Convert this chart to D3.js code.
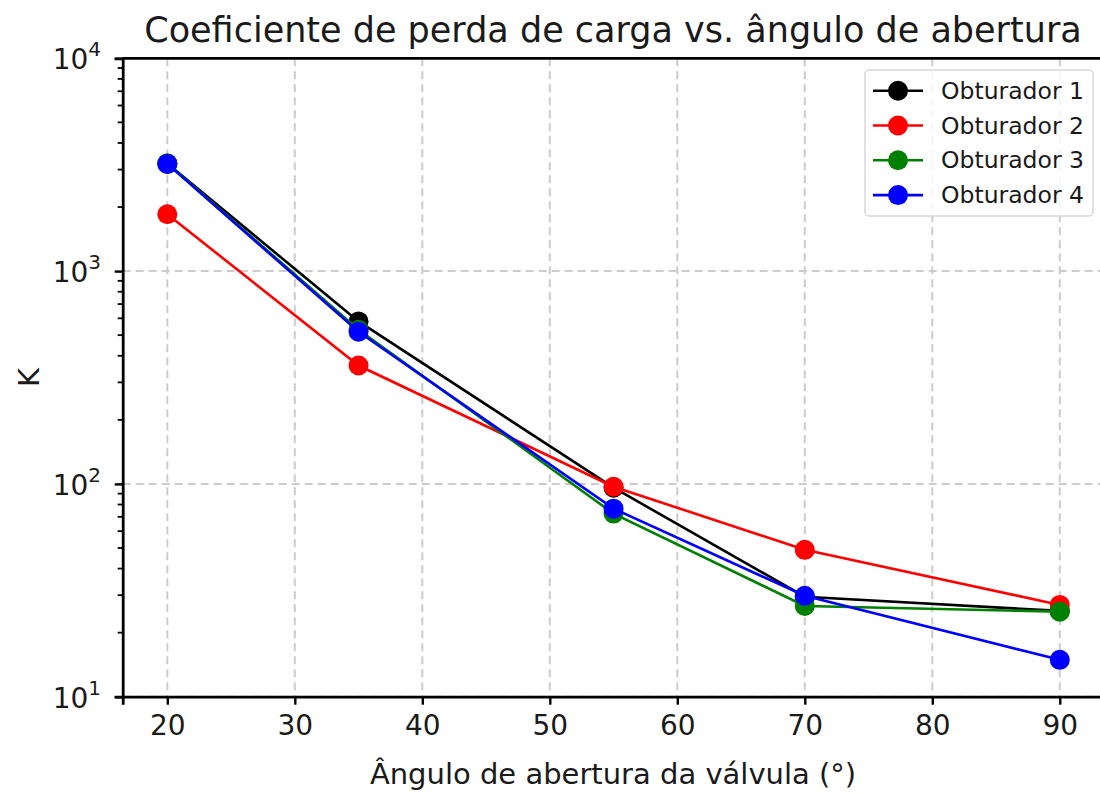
<!DOCTYPE html>
<html><head><meta charset="utf-8">
<script src="https://cdn.jsdelivr.net/npm/d3@7"></script>
<style>body{margin:0;background:#fff}svg{display:block}text{font-family:"DejaVu Sans",sans-serif;fill:#1a1a1a}</style>
</head><body><svg id="c" width="1100" height="794"></svg>
<script>
const angles = [20, 35, 55, 70, 90];
const obt1 = [3200, 580, 96, 29.5, 25.3];
const obt2 = [1850, 360, 97, 49, 27];
const obt3 = [3200, 530, 72.5, 26.7, 25.1];
const obt4 = [3190, 519, 76.5, 29.8, 14.9];
const seriesNames = ["Obturador 1", "Obturador 2", "Obturador 3", "Obturador 4"];
const seriesColors = ["#000000", "#ff0000", "#008000", "#0000ff"];
const xTicks = [20, 30, 40, 50, 60, 70, 80, 90];
const yTicks = [10, 100, 1000, 10000];
const yTickExp = ["1", "2", "3", "4"];
const titleText = "Coeficiente de perda de carga vs. ângulo de abertura";
const xLabel = "Ângulo de abertura da válvula (°)";
const yLabel = "K";

const series = [obt1, obt2, obt3, obt4];
const svg = d3.select("#c");
const L = 122.7, R = 1104.4, T = 58.3, B = 696.7;
const x = d3.scaleLinear().domain([16.5, 93.5]).range([L, R]);
const y = d3.scaleLog().domain([10, 10000]).range([B, T]);

// grid
const g = svg.append("g");
g.selectAll("line.gx").data(xTicks).join("line")
  .attr("x1", d => x(d)).attr("x2", d => x(d)).attr("y1", T).attr("y2", B)
  .attr("stroke", "#cccccc").attr("stroke-width", 2).attr("stroke-dasharray", "8,5");
g.selectAll("line.gy").data(yTicks).join("line")
  .attr("y1", d => y(d)).attr("y2", d => y(d)).attr("x1", L).attr("x2", R)
  .attr("stroke", "#cccccc").attr("stroke-width", 2).attr("stroke-dasharray", "8,5");

// series
const line = d3.line().x((d, i) => x(angles[i])).y(d => y(d));
series.forEach((s, k) => {
  svg.append("path").datum(s).attr("d", line).attr("fill", "none")
    .attr("stroke", seriesColors[k]).attr("stroke-width", 2.6);
  svg.selectAll(null).data(s).join("circle")
    .attr("cx", (d, i) => x(angles[i])).attr("cy", d => y(d)).attr("r", 10)
    .attr("fill", seriesColors[k]);
});

// axes
const xAxis = d3.axisBottom(x).tickValues(xTicks).tickSize(8).tickPadding(10).tickFormat(d3.format("d"));
const gx = svg.append("g").attr("transform", `translate(0,${B})`).call(xAxis);
gx.select(".domain").attr("stroke", "#000").attr("stroke-width", 2.8);
gx.selectAll(".tick line").attr("stroke", "#000").attr("stroke-width", 2.4);
gx.selectAll(".tick text").attr("font-size", 28).attr("fill", "#1a1a1a").attr("font-family", "DejaVu Sans");

const minor = [];
for (let e = 1; e < 4; e++) for (let m = 2; m < 10; m++) minor.push(m * Math.pow(10, e));
const gy = svg.append("g").attr("transform", `translate(${L},0)`);
gy.call(d3.axisLeft(y).tickValues(yTicks).tickSize(8).tickFormat(""));
gy.call(g2 => g2.selectAll(".tick text").remove());
gy.select(".domain").attr("stroke", "#000").attr("stroke-width", 2.8);
gy.selectAll(".tick line").attr("stroke", "#000").attr("stroke-width", 2.4);
gy.selectAll("line.minor").data(minor).join("line").attr("class", "minor")
  .attr("x1", 0).attr("x2", -5).attr("y1", d => y(d)).attr("y2", d => y(d))
  .attr("stroke", "#000").attr("stroke-width", 1.8);
yTicks.forEach((v, i) => {
  const t = svg.append("text").attr("x", 101).attr("y", y(v) + 11).attr("text-anchor", "end").attr("font-size", 28);
  t.append("tspan").text("10");
  t.append("tspan").text(yTickExp[i]).attr("font-size", 20).attr("dy", -13);
});
// top spine
svg.append("line").attr("x1", L).attr("x2", R).attr("y1", T).attr("y2", T).attr("stroke", "#000").attr("stroke-width", 2.8);

// labels
svg.append("text").attr("x", 613).attr("y", 42).attr("text-anchor", "middle").attr("font-size", 35).text(titleText);
svg.append("text").attr("x", 613).attr("y", 784).attr("text-anchor", "middle").attr("font-size", 29).text(xLabel);
svg.append("text").attr("transform", `translate(39,${(T + B) / 2}) rotate(-90)`).attr("text-anchor", "middle").attr("font-size", 29).text(yLabel);

// legend
const lg = svg.append("g");
lg.append("rect").attr("x", 865).attr("y", 70).attr("width", 228).attr("height", 146).attr("rx", 4)
  .attr("fill", "#fff").attr("fill-opacity", 0.8).attr("stroke", "#d8d8d8").attr("stroke-width", 1.5);
seriesNames.forEach((n, i) => {
  const yy = 90.7 + i * 34.8;
  lg.append("line").attr("x1", 873).attr("x2", 923).attr("y1", yy).attr("y2", yy).attr("stroke", seriesColors[i]).attr("stroke-width", 2.6);
  lg.append("circle").attr("cx", 898).attr("cy", yy).attr("r", 10).attr("fill", seriesColors[i]);
  lg.append("text").attr("x", 941).attr("y", yy + 8).attr("font-size", 23.5).text(n);
});
</script></body></html>
